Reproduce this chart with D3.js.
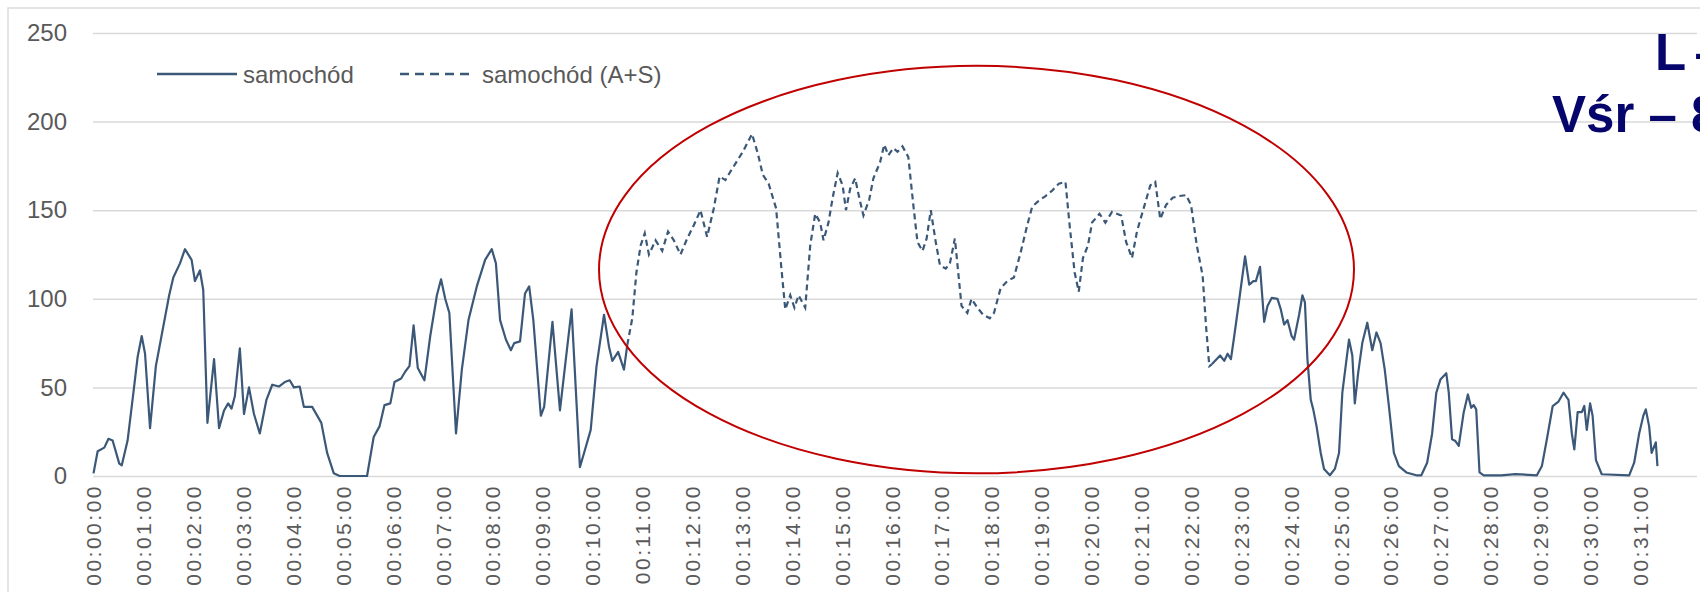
<!DOCTYPE html>
<html>
<head>
<meta charset="utf-8">
<script src="https://cdn.jsdelivr.net/npm/d3@7"></script>
<style>
  body { margin: 0; background: #fff; }
  svg { display: block; font-family: 'Liberation Sans', Arial, sans-serif; }
</style>
</head>
<body>
<div class="graph"></div>
<script>
var yTicks = [0, 50, 100, 150, 200, 250];

var xTickLabels = ['00:00:00', '00:01:00', '00:02:00', '00:03:00', '00:04:00', '00:05:00',
  '00:06:00', '00:07:00', '00:08:00', '00:09:00', '00:10:00', '00:11:00', '00:12:00',
  '00:13:00', '00:14:00', '00:15:00', '00:16:00', '00:17:00', '00:18:00', '00:19:00',
  '00:20:00', '00:21:00', '00:22:00', '00:23:00', '00:24:00', '00:25:00', '00:26:00',
  '00:27:00', '00:28:00', '00:29:00', '00:30:00', '00:31:00'];

var seriesNames = ['samochód', 'samochód (A+S)'];

// samochód - time in seconds, null = gap where A+S takes over
var carTime = [
  0, 5, 13, 18, 23, 31, 34, 41, 48, 53, 58, 62,
  68, 75, 81, 91, 96, 104, 110, 118, 122, 128, 132, 137,
  145, 151, 157, 162, 166, 170, 176, 181, 187, 193, 200, 208,
  215, 223, 230, 236, 241, 248, 253, 263, 274, 281, 289, 296,
  329, 337, 344, 350, 357, 362, 370, 375, 380, 385, 390, 398,
  405, 413, 418, 423, 428, 436, 443, 451, 461, 471, 479, 484,
  489, 496, 502, 506, 513, 519, 524, 529, 538, 542, 552, 561,
  575, 585, 590, 598, 605, 614, 620, 624, 631, 638, 642, 700,
  1345, 1355, 1360, 1364, 1368, 1372, 1379, 1385, 1390, 1395, 1398, 1403,
  1408, 1412, 1417, 1424, 1428, 1432, 1436, 1441, 1444, 1450, 1454, 1457,
  1460, 1464, 1467, 1471, 1476, 1480, 1487, 1493, 1498, 1502, 1510, 1514,
  1517, 1521, 1526, 1532, 1538, 1543, 1548, 1553, 1558, 1564, 1570, 1579,
  1591, 1597, 1604, 1610, 1615, 1620, 1627, 1630, 1634, 1638, 1642, 1648,
  1653, 1657, 1660, 1663, 1667, 1672, 1693, 1710, 1736, 1742, 1748, 1755,
  1762, 1768, 1774, 1778, 1781, 1785, 1790, 1793, 1796, 1800, 1803, 1807,
  1814, 1847, 1853, 1859, 1864, 1867, 1871, 1874, 1879, 1881];

var carValue = [
  1.5, 14, 16, 21, 20, 7, 6, 20, 47, 67, 79, 69,
  27, 62, 77, 102, 112, 120, 128, 122, 110, 116, 105, 30,
  66, 27, 37, 41, 38, 45, 72, 35, 50, 35, 24, 43,
  51.5, 50.5, 53, 54, 50, 50.5, 39, 39, 30, 13, 1.5, 0,
  0, 22, 28, 40, 41, 53, 55, 59, 62, 85, 61, 54,
  79, 102, 111, 100, 92, 24, 60, 88, 107, 122, 128, 120,
  88, 77, 71, 75, 76, 103, 107, 88, 34, 39, 87, 37,
  94, 5, 13, 26, 62, 91, 73, 65, 70, 60, 74, null,
  63, 68, 65, 69, 66, 79, 103, 124, 108, 110, 110, 118,
  87, 96, 100.5, 100, 94, 85.5, 88, 79, 77, 91, 102, 98,
  66, 43, 37.6, 28, 13, 4, 0.4, 4, 13, 47, 77, 68,
  41, 58, 75, 86.5, 71, 81, 75, 60, 39.5, 13, 5.6, 2,
  0.4, 0.4, 7.5, 24, 47, 54.5, 58, 47, 20.7, 19.7, 17, 36,
  46, 38.5, 40, 37.6, 2, 0.4, 0.4, 1.1, 0.4, 5.6, 20.7, 39.5,
  42, 47, 43, 24, 15, 36, 36, 39.5, 26, 41, 34, 9,
  1, 0.4, 7.5, 24, 34, 37.6, 28, 13, 19, 5.6];

// samochód (A+S)
var asTime = [
  642, 648, 653, 658, 663, 668, 676, 684, 691, 698, 706, 714,
  722, 730, 738, 746, 753, 760, 765, 773, 781, 792, 799, 805,
  812, 821, 827, 832, 838, 843, 848, 856, 862, 868, 874, 878,
  884, 889, 895, 901, 905, 910, 916, 921, 926, 933, 938, 946,
  951, 956, 962, 967, 973, 980, 986, 991, 997, 1002, 1007, 1013,
  1018, 1025, 1030, 1036, 1040, 1044, 1051, 1056, 1063, 1070, 1078, 1083,
  1091, 1099, 1107, 1115, 1123, 1129, 1136, 1145, 1153, 1161, 1169, 1174,
  1180, 1185, 1190, 1196, 1201, 1210, 1217, 1225, 1236, 1242, 1249, 1255,
  1263, 1271, 1277, 1283, 1290, 1298, 1306, 1314, 1320, 1327, 1334, 1338,
  1342, 1345];

var asValue = [
  74, 89, 115, 130, 137, 125, 133, 127, 138, 133, 125, 134,
  141.5, 150, 135, 151, 169, 167, 171, 177, 183, 193, 182, 170,
  165, 151, 119, 94, 102, 95, 102, 95, 130, 148, 143, 133,
  143, 157, 171, 164, 150, 162, 168, 157, 147, 156, 168, 177,
  187, 181, 185, 183, 186, 180, 153, 132, 127, 134, 150, 132,
  119, 117, 120, 134, 115, 96, 92, 100, 95, 91, 89, 92,
  106, 110, 112, 126, 141.5, 152, 155, 158, 161, 165, 166, 141.5,
  115, 104, 123, 130, 143, 148, 143, 149, 147, 132, 123, 138,
  151, 164, 166, 145, 153, 157, 158, 158.5, 153, 130, 113, 85,
  62, 63];

// highlighted region: centre (seconds, value) and radii
var ringCenter = [1062, 116.5];
var ringRadius = [454, 115];

var noteLines = ['L –', 'Vśr – 8'];

var width = 1700,
    height = 592;

var lineColor = '#3b5878';

var svg = d3.select('.graph')
  .append('svg')
  .attr('width', width)
  .attr('height', height);

// chart frame
svg.append('path')
  .attr('d', 'M8,' + height + 'V8H' + width)
  .attr('fill', 'none')
  .attr('stroke', '#dcdcdc')
  .attr('stroke-width', 1.5);

var xScale = d3.scaleLinear()
  .domain([0, 1860])
  .range([93.5, 1640]);

var yScale = d3.scaleLinear()
  .domain([0, 250])
  .range([476, 33]);

var plotLeft = 93,
    plotRight = 1697;

var yAxis = d3.axisLeft(yScale)
  .tickValues(yTicks)
  .tickSize(-(plotRight - plotLeft))
  .tickPadding(26);

var yAxisGroup = svg.append('g')
  .attr('transform', 'translate(' + plotLeft + ',0)')
  .call(yAxis);

yAxisGroup.select('.domain').remove();
yAxisGroup.selectAll('line')
  .attr('stroke', '#d9d9d9')
  .attr('stroke-width', 1.5);
yAxisGroup.selectAll('text')
  .attr('font-size', 24)
  .attr('font-family', 'Liberation Sans, Arial, sans-serif')
  .attr('fill', '#595959');

var xTickSec = xTickLabels.map((s) => +s.substring(3, 5) * 60);

var xAxis = d3.axisBottom(xScale)
  .tickValues(xTickSec)
  .tickFormat((d) => xTickLabels[xTickSec.indexOf(d)])
  .tickSize(0);

var xAxisGroup = svg.append('g')
  .attr('transform', 'translate(0,' + yScale(0) + ')')
  .call(xAxis);

xAxisGroup.select('.domain').remove();
xAxisGroup.selectAll('text')
  .attr('transform', 'rotate(-90)')
  .attr('x', -8)
  .attr('y', 0)
  .attr('dy', '0.35em')
  .attr('text-anchor', 'end')
  .attr('font-size', 21)
  .attr('letter-spacing', 2.5)
  .attr('font-family', 'Liberation Sans, Arial, sans-serif')
  .attr('fill', '#595959');

var carData = carTime.map((t, i) => ({ t: t, v: carValue[i] }));
var asData = asTime.map((t, i) => ({ t: t, v: asValue[i] }));

var line = d3.line()
  .defined((d) => d.v !== null)
  .x((d) => xScale(d.t))
  .y((d) => yScale(d.v));

svg.append('path')
  .datum(carData)
  .attr('d', line)
  .attr('fill', 'none')
  .attr('stroke', lineColor)
  .attr('stroke-width', 2.2)
  .attr('stroke-linejoin', 'round');

svg.append('path')
  .datum(asData)
  .attr('d', line)
  .attr('fill', 'none')
  .attr('stroke', lineColor)
  .attr('stroke-width', 2.2)
  .attr('stroke-dasharray', '6,4');

// legend
var legend = svg.append('g')
  .attr('font-size', 24)
  .attr('fill', '#595959');

legend.append('line')
  .attr('x1', 157).attr('x2', 237)
  .attr('y1', 74).attr('y2', 74)
  .attr('stroke', lineColor)
  .attr('stroke-width', 2.5);
legend.append('text')
  .attr('x', 243).attr('y', 83)
  .text(seriesNames[0]);

legend.append('line')
  .attr('x1', 400).attr('x2', 474)
  .attr('y1', 74).attr('y2', 74)
  .attr('stroke', lineColor)
  .attr('stroke-width', 2.5)
  .attr('stroke-dasharray', '9,6');
legend.append('text')
  .attr('x', 482).attr('y', 83)
  .text(seriesNames[1]);

// red ring round the A+S part
svg.append('ellipse')
  .attr('cx', xScale(ringCenter[0]))
  .attr('cy', yScale(ringCenter[1]))
  .attr('rx', xScale(ringCenter[0] + ringRadius[0]) - xScale(ringCenter[0]))
  .attr('ry', yScale(0) - yScale(ringRadius[1]))
  .attr('fill', 'none')
  .attr('stroke', '#c00000')
  .attr('stroke-width', 2);

// note on the right, cut by the page edge
svg.append('text')
  .attr('x', 1655).attr('y', 70)
  .attr('font-size', 51)
  .attr('font-weight', 'bold')
  .attr('word-spacing', -5)
  .attr('fill', '#05056b')
  .text(noteLines[0]);

svg.append('text')
  .attr('x', 1552).attr('y', 132)
  .attr('font-size', 51)
  .attr('font-weight', 'bold')
  .attr('fill', '#05056b')
  .text(noteLines[1]);
</script>
</body>
</html>
